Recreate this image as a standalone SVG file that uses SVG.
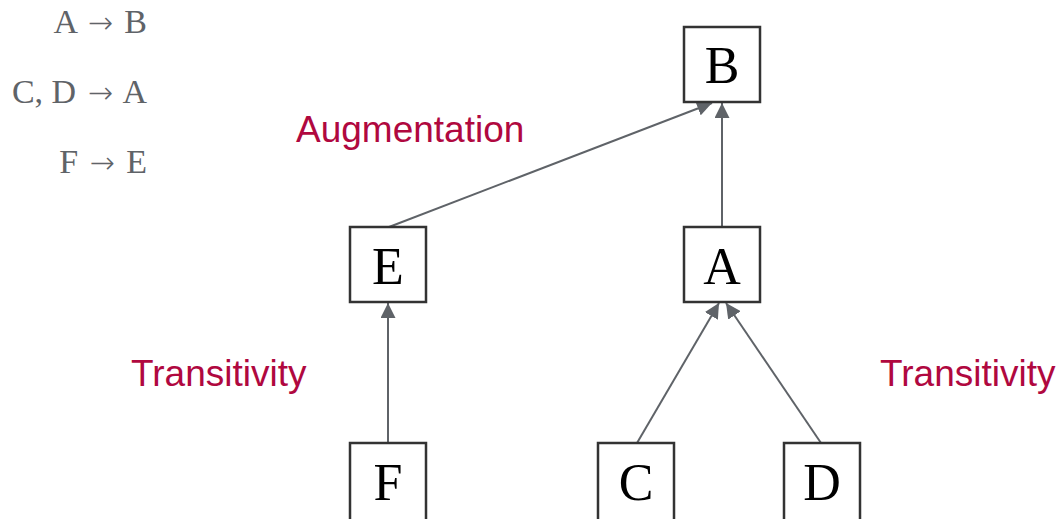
<svg xmlns="http://www.w3.org/2000/svg" width="1061" height="519" viewBox="0 0 1061 519">
  <style>
    .box { fill: #ffffff; stroke: #333333; stroke-width: 2.5; }
    .node-label { font-family: "Liberation Serif", "DejaVu Serif", serif; font-size: 52px; fill: #000000; text-anchor: middle; }
    .rule { font-family: "Liberation Serif", "DejaVu Serif", serif; font-size: 34px; fill: #5f6368; text-anchor: end; }
    .arrow { font-family: "DejaVu Sans", sans-serif; font-weight: 200; font-size: 30px; }
    .law { font-family: "Liberation Sans", Arial, sans-serif; font-size: 37px; fill: #b0083f; }
    .edge { stroke: #5f6368; stroke-width: 2; fill: none; marker-end: url(#head); }
  </style>
  <defs>
    <marker id="head" viewBox="0 0 10 10" refX="10" refY="5" markerWidth="7.5" markerHeight="7.5" markerUnits="strokeWidth" orient="auto">
      <path d="M0,0 L10,5 L0,10 Z" fill="#5f6368"/>
    </marker>
  </defs>

  <rect width="1061" height="519" fill="#ffffff"/>

  <!-- functional dependencies -->
  <g id="rules">
    <text class="rule" x="147" y="33">A <tspan class="arrow" dx="3">→</tspan><tspan dx="3"> B</tspan></text>
    <text class="rule" x="147" y="103">C, D <tspan class="arrow" dx="3">→</tspan><tspan dx="3"> A</tspan></text>
    <text class="rule" x="147" y="173">F <tspan class="arrow" dx="3">→</tspan><tspan dx="3"> E</tspan></text>
  </g>

  <!-- inference rule labels -->
  <g id="labels">
    <text class="law" x="296" y="142">Augmentation</text>
    <text class="law" x="131" y="386">Transitivity</text>
    <text class="law" x="880" y="386">Transitivity</text>
  </g>

  <!-- connectors -->
  <g id="connectors">
    <line class="edge" x1="389" y1="227" x2="712" y2="103"/>
    <line class="edge" x1="722" y1="227" x2="722" y2="103"/>
    <line class="edge" x1="388" y1="443" x2="388" y2="303"/>
    <line class="edge" x1="637" y1="443" x2="719" y2="303"/>
    <line class="edge" x1="821" y1="443" x2="726" y2="303"/>
  </g>

  <!-- nodes -->
  <g id="node-B">
    <rect class="box" x="684" y="27" width="76" height="75"/>
    <text class="node-label" x="722" y="83">B</text>
  </g>
  <g id="node-E">
    <rect class="box" x="350" y="227" width="76" height="75"/>
    <text class="node-label" x="388" y="284">E</text>
  </g>
  <g id="node-A">
    <rect class="box" x="684" y="227" width="76" height="75"/>
    <text class="node-label" x="722" y="284">A</text>
  </g>
  <g id="node-F">
    <rect class="box" x="350" y="443" width="76" height="80"/>
    <text class="node-label" x="388" y="500">F</text>
  </g>
  <g id="node-C">
    <rect class="box" x="598" y="443" width="76" height="80"/>
    <text class="node-label" x="636" y="500">C</text>
  </g>
  <g id="node-D">
    <rect class="box" x="784" y="443" width="76" height="80"/>
    <text class="node-label" x="822" y="500">D</text>
  </g>
</svg>
